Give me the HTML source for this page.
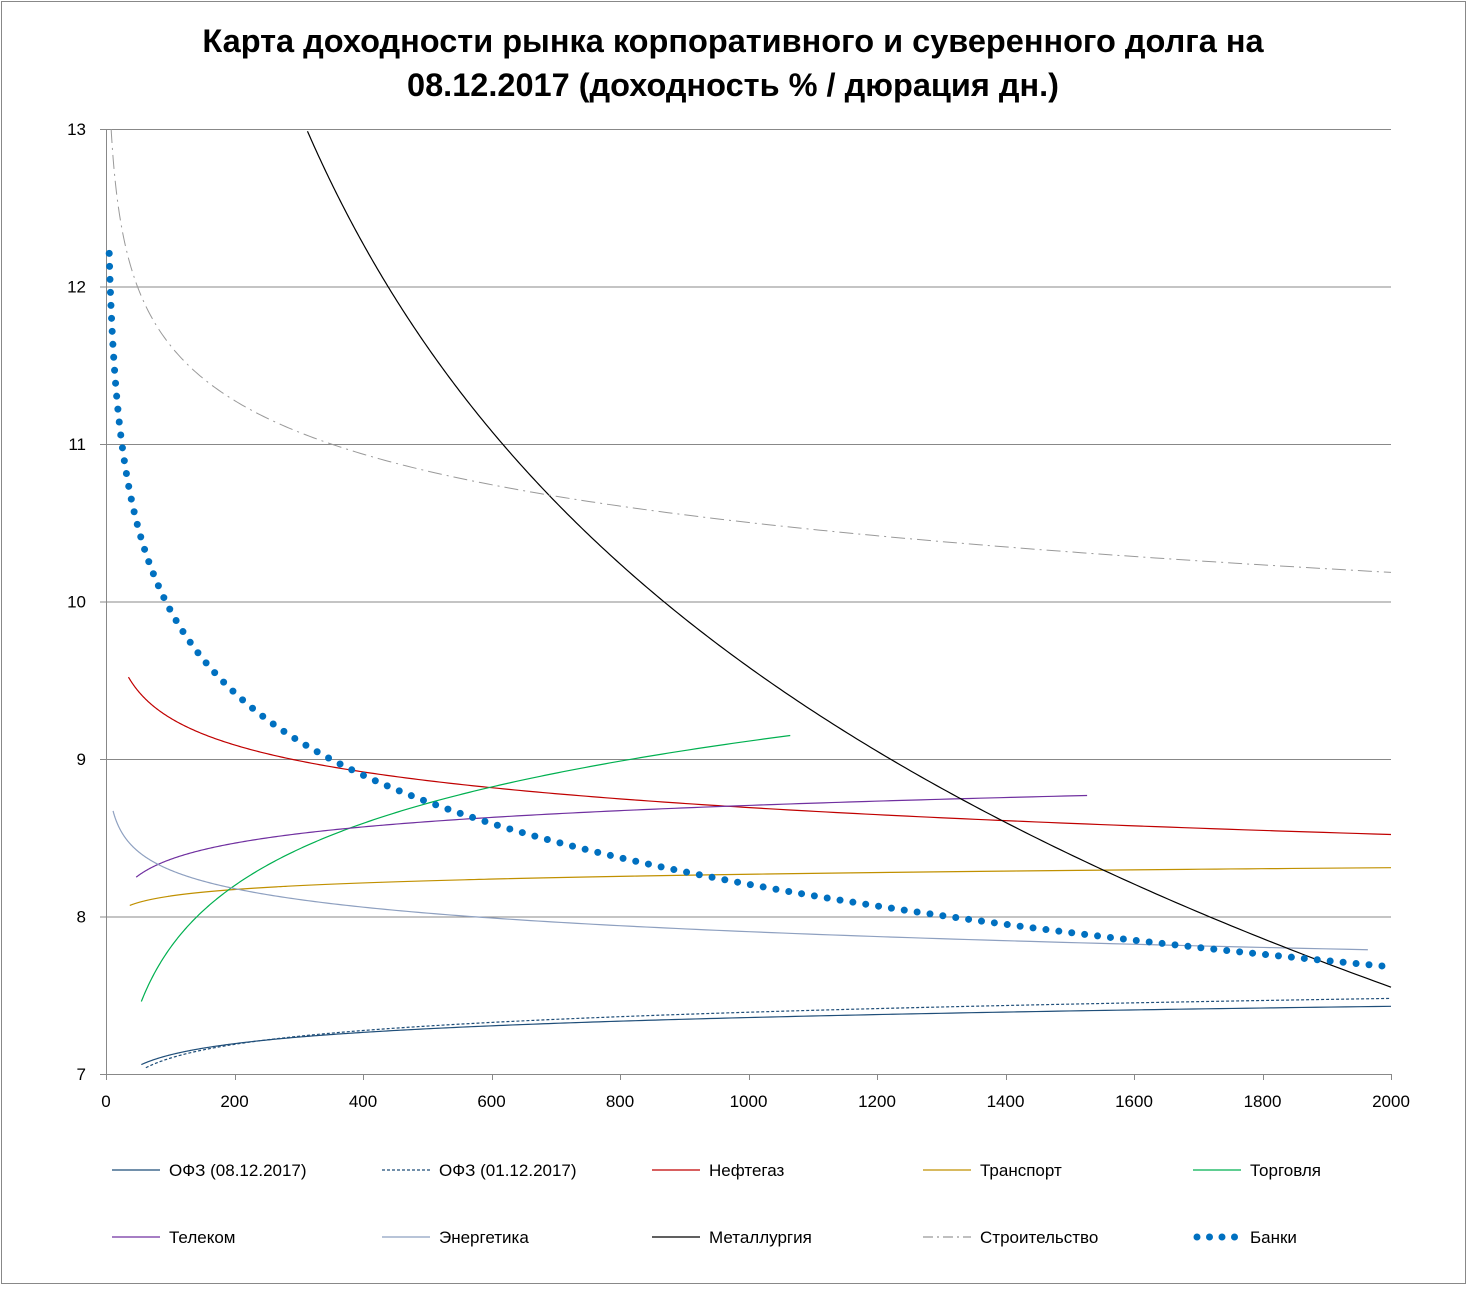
<!DOCTYPE html>
<html><head><meta charset="utf-8"><style>
body{margin:0;background:#fff}
svg text{font-family:"Liberation Sans",sans-serif}
</style></head><body>
<svg id="s" width="1468" height="1286" xmlns="http://www.w3.org/2000/svg">
<rect x="1.5" y="1.5" width="1464" height="1282" fill="#fff" stroke="#888" stroke-width="1"/>
<text x="733" y="52" text-anchor="middle" font-size="32.5" font-weight="bold">Карта доходности рынка корпоративного и суверенного долга на</text>
<text x="733" y="96" text-anchor="middle" font-size="32.5" font-weight="bold">08.12.2017 (доходность % / дюрация дн.)</text>
<g id="grid" stroke="#888" stroke-width="1"></g>
<g id="lab" font-size="17" fill="#000"></g>
<g id="ser" fill="none"></g>
<g id="leg" font-size="17"></g>
</svg>
<script>
var NS="http://www.w3.org/2000/svg";
function px(x){return 106+x*0.6425}
function py(y){return 129+(13-y)*157.5}
function el(p,t,a,txt){var e=document.createElementNS(NS,t);for(var k in a)e.setAttribute(k,a[k]);if(txt)e.textContent=txt;document.getElementById(p).appendChild(e);return e}
for(var v=7;v<=13;v++){var y=py(v)+0.5;el('grid','line',{x1:100,x2:1391,y1:y,y2:y});el('lab','text',{x:86,y:py(v)+6,'text-anchor':'end'},String(v))}
el('grid','line',{x1:106.5,x2:106.5,y1:129,y2:1080});
for(var x=0;x<=2000;x+=200){var X=Math.round(px(x))+0.5;el('grid','line',{x1:X,x2:X,y1:1074,y2:1080});el('lab','text',{x:px(x),y:1107,'text-anchor':'middle'},String(x))}
function curve(f,x0,x1,st){var d='',n=300;var first=true;for(var i=0;i<=n;i++){var x=x0*Math.pow(x1/x0,i/n);var y=f(x);if(y>13.0001)continue;d+=(first?'M':'L')+px(x).toFixed(2)+','+py(y).toFixed(2);first=false}st.d=d;el('ser','path',st)}
function lg(a,b){return function(x){return a+b*Math.log(x)}}
curve(lg(6.647,0.103),55,2000,{stroke:'#1F4E79','stroke-width':1.2});
curve(lg(6.517,0.1267),62,2000,{stroke:'#1F4E79','stroke-width':1.2,'stroke-dasharray':'3,2'});
curve(lg(10.398,-0.247),35,2000,{stroke:'#C00000','stroke-width':1.2});
curve(lg(7.853,0.0601),37,2000,{stroke:'#C09000','stroke-width':1.2});
curve(lg(5.176,0.570),55,1065,{stroke:'#00B050','stroke-width':1.2});
curve(lg(7.676,0.149),47,1527,{stroke:'#7030A0','stroke-width':1.2});
curve(lg(9.078,-0.170),11,1964,{stroke:'#8EA0C0','stroke-width':1.2});
curve(lg(29.845,-2.933),300,2000,{stroke:'#000','stroke-width':1.2});
curve(function(x){return 13*Math.pow(x/8,-0.0442)},8,2000,{stroke:'#999','stroke-width':1,'stroke-dasharray':'14,5,2,5'});
curve(lg(13.427,-0.756),5,2000,{stroke:'#0070C0','stroke-width':7,'stroke-linecap':'round','stroke-dasharray':'0,13'});
var L=[['ОФЗ (08.12.2017)',{stroke:'#1F4E79'}],['ОФЗ (01.12.2017)',{stroke:'#1F4E79','stroke-dasharray':'3,2'}],['Нефтегаз',{stroke:'#C00000'}],['Транспорт',{stroke:'#C09000'}],['Торговля',{stroke:'#00B050'}],['Телеком',{stroke:'#7030A0'}],['Энергетика',{stroke:'#8EA0C0'}],['Металлургия',{stroke:'#000'}],['Строительство',{stroke:'#999','stroke-dasharray':'10,4,2,4'}],['Банки',{stroke:'#0070C0','stroke-width':7,'stroke-linecap':'round','stroke-dasharray':'0,12.5'}]];
var cols=[112,382,652,923,1193];
L.forEach(function(l,i){var x=cols[i%5],y=i<5?1170:1237;var a={x1:x,x2:x+48,y1:y,y2:y,'stroke-width':1.3};for(var k in l[1])a[k]=l[1][k];if(i==9){a.x1=x+4;a.x2=x+44}el('leg','line',a);el('leg','text',{x:x+57,y:y+6},l[0])});
</script>
</body></html>
